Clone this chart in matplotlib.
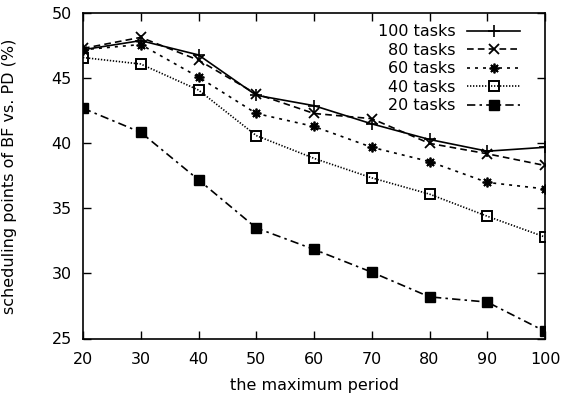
import matplotlib
matplotlib.use("Agg")
import matplotlib.pyplot as plt

periods = [20, 30, 40, 50, 60, 70, 80, 90, 100]
tasks100 = [47.2, 47.9, 46.8, 43.7, 42.9, 41.5, 40.3, 39.4, 39.7]
tasks80 = [47.3, 48.15, 46.4, 43.8, 42.3, 41.9, 40.0, 39.2, 38.3]
tasks60 = [47.2, 47.6, 45.1, 42.3, 41.3, 39.7, 38.6, 37.0, 36.5]
tasks40 = [46.6, 46.1, 44.1, 40.6, 38.85, 37.35, 36.1, 34.4, 32.8]
tasks20 = [42.7, 40.85, 37.2, 33.5, 31.85, 30.1, 28.2, 27.8, 25.55]
labels = ["100 tasks", "80 tasks", "60 tasks", "40 tasks", "20 tasks"]

plt.rcParams['font.family'] = ['DejaVu Sans']

fs = 11.5
fig = plt.figure(figsize=(5.63, 3.98), dpi=100)
ax = fig.add_axes([83/563, 1 - 338.5/398, (545 - 83)/563, (338.5 - 13.3)/398])

lw = 1.2
ax.plot(periods, tasks100, color='black', lw=lw, ls='-', marker='+', ms=8, mew=1.2, label=labels[0])
ax.plot(periods, tasks80, color='black', lw=lw, ls=(0, (4, 2.5)), marker='x', ms=7, mew=1.3, label=labels[1])
ax.plot(periods, tasks60, color='black', lw=lw, ls=(0, (1.8, 3)), marker=(8, 2, 0), ms=7, mew=1.3, label=labels[2])
ax.plot(periods, tasks40, color='black', lw=lw, ls=(0, (0.8, 1.0)), marker='s', ms=7, mew=1.4,
        mfc='none', label=labels[3])
ax.plot(periods, tasks20, color='black', lw=lw, ls=(0, (5, 2.5, 1.5, 2.5)), marker='s', ms=7, mew=1.0,
        label=labels[4])

ax.set_xlim(20, 100)
ax.set_ylim(25, 50)
ax.set_xticks(periods)
ax.set_yticks([25, 30, 35, 40, 45, 50])
ax.tick_params(direction='in', top=True, right=True, length=6, width=1, labelsize=fs)
ax.tick_params(axis='x', pad=10)
ax.tick_params(axis='y', pad=8)
for s in ax.spines.values():
    s.set_linewidth(1.2)
ax.set_xlabel("the maximum period", fontsize=fs)
ax.set_ylabel("scheduling points of BF vs. PD (%)", fontsize=fs)
ax.xaxis.set_label_coords(0.5, -0.12)
ax.yaxis.set_label_coords(-0.143, 0.5)

ax.legend(loc='upper right', bbox_to_anchor=(0.946, 0.966), frameon=False, markerfirst=False,
          fontsize=fs, handlelength=3.3, labelspacing=0.22, borderaxespad=0.0, borderpad=0.0,
          handletextpad=0.75)

fig.savefig("out.png", dpi=100)
